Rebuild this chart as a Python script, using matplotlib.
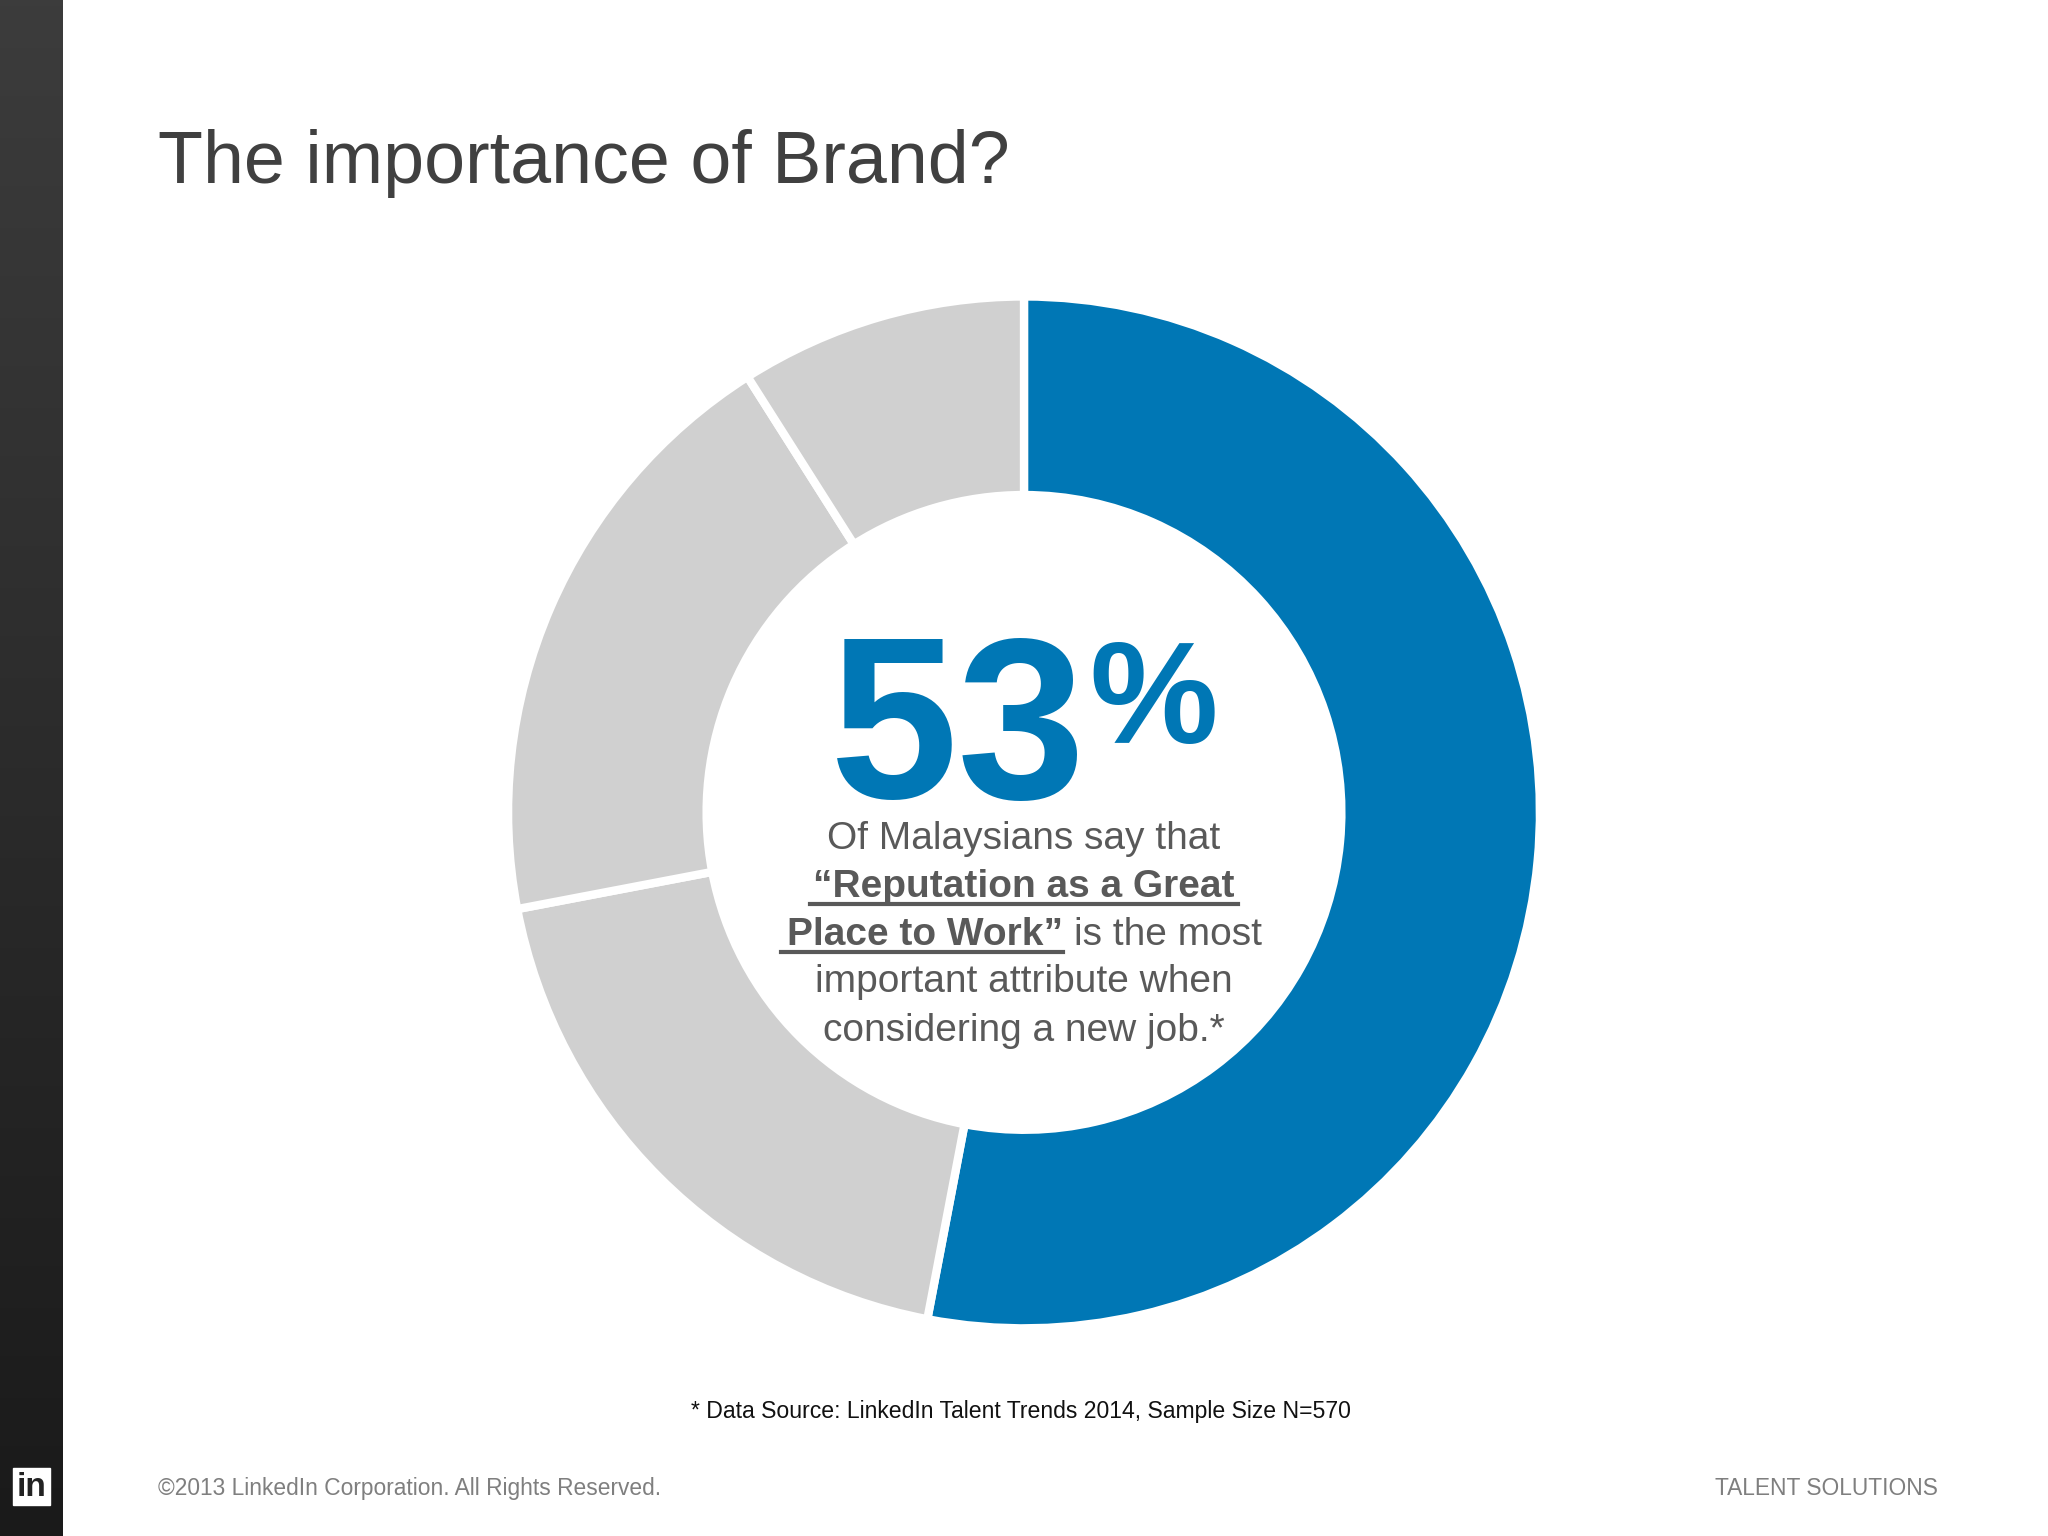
import matplotlib
matplotlib.use("Agg")
import matplotlib.pyplot as plt
import numpy as np
plt.rcParams['font.family'] = ['Liberation Sans', 'DejaVu Sans']

values = [53, 19, 19, 9]
colors = ["#0077B5", "#D0D0D0", "#D0D0D0", "#D0D0D0"]
title = "The importance of Brand?"
big = "53"
source = "* Data Source: LinkedIn Talent Trends 2014, Sample Size N=570"
footer_left = "©2013 LinkedIn Corporation. All Rights Reserved."
footer_right = "TALENT SOLUTIONS"

S = 2048 / 1568
H = 1536
def X(x): return x * S
def Y(y): return H - y * S

fig = plt.figure(figsize=(20.48, 15.36), dpi=100)
ax = fig.add_axes([0, 0, 1, 1])
ax.pie(values, colors=colors, startangle=90, counterclock=False,
       center=(X(784), Y(622)), radius=395 * S,
       wedgeprops=dict(width=(395 - 243) * S, edgecolor="white", linewidth=6))
ax.set_aspect("auto")
ax.set_xlim(0, 2048); ax.set_ylim(0, H); ax.axis("off")

grad = np.linspace(0, 1, 256).reshape(-1, 1)
ax.imshow(grad, extent=(0, X(48), 0, H), cmap=matplotlib.colors.LinearSegmentedColormap.from_list("g", ["#3c3c3c", "#1a1a1a"]),
          aspect="auto", zorder=0)
ax.add_patch(plt.Rectangle((X(10), Y(1152)), X(28), X(28), color="white", zorder=2))
ax.text(X(24), Y(1139), "in", color="#222222", fontsize=24, fontweight="bold", ha="center", va="center", zorder=3)

ax.text(X(121), Y(125), title, fontsize=53, color="#404040", va="center", ha="left")

blue = "#0077B5"
ax.text(X(832), Y(611), big, fontsize=166, fontweight="bold", color=blue, ha="right", va="baseline")
ax.text(X(834), Y(569), "%", fontsize=104, fontweight="bold", color=blue, ha="left", va="baseline")

tc = "#595959"
fs = 28
ax.text(X(784), Y(642), "Of Malaysians say that", fontsize=fs, color=tc, ha="center", va="center")
ax.text(X(784), Y(679), "“Reputation as a Great", fontsize=fs, color=tc, ha="center", va="center", fontweight="bold")
ax.plot([X(620), X(948)], [Y(692), Y(692)], color=tc, lw=3)
ax.text(X(814), Y(716), "Place to Work”", fontsize=fs, color=tc, ha="right", va="center", fontweight="bold")
ax.text(X(822), Y(716), "is the most", fontsize=fs, color=tc, ha="left", va="center")
ax.plot([X(598), X(814)], [Y(729), Y(729)], color=tc, lw=3)
ax.text(X(784), Y(752), "important attribute when", fontsize=fs, color=tc, ha="center", va="center")
ax.text(X(784), Y(789), "considering a new job.*", fontsize=fs, color=tc, ha="center", va="center")

ax.text(X(782), Y(1081), source, fontsize=16.6, color="#111111", ha="center", va="center")
ax.text(X(121), Y(1140), footer_left, fontsize=16.4, color="#7f7f7f", ha="left", va="center")
ax.text(X(1484), Y(1140), footer_right, fontsize=16.4, color="#7f7f7f", ha="right", va="center")

fig.savefig("out.png", dpi=100, facecolor="white")
